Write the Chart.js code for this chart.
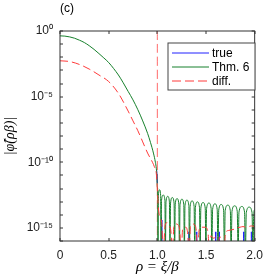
<!DOCTYPE html>
<html>
<head>
<meta charset="utf-8">
<script src="https://cdn.jsdelivr.net/npm/chart.js@4.4.1/dist/chart.umd.min.js"></script>
<style>
  html, body { margin: 0; padding: 0; background: #fff; }
  #wrap { width: 270px; height: 280px; }
</style>
</head>
<body>
<div id="wrap"><canvas id="chart" width="270" height="280"></canvas></div>
<script>
// rho values and log10 |phi|
const thmRho = [0, 0.05, 0.1, 0.15, 0.2, 0.25, 0.3, 0.35, 0.4, 0.45, 0.5, 0.55, 0.6, 0.65, 0.7,
    0.75, 0.8, 0.85, 0.9, 0.93, 0.96, 0.98, 0.99, 0.995, 1.0, 1.003];
const thmLog = [-0.37, -0.39, -0.45, -0.55, -0.70, -0.88, -1.12, -1.40, -1.72, -2.05, -2.40, -2.85, -3.35, -3.95, -4.60,
    -5.25, -6.00, -6.85, -7.80, -8.50, -9.30, -10.0, -10.5, -11.0, -11.9, -12.0];

// Thm. 6 beyond rho = 1 (arches between zeros)
const thmTailRho = [1.007, 1.011, 1.023, 1.034, 1.038, 1.043, 1.061, 1.078, 1.083, 1.089, 1.107, 1.124,
    1.13, 1.136, 1.154, 1.172, 1.178, 1.184, 1.203, 1.221, 1.227, 1.233, 1.253, 1.272,
    1.278, 1.284, 1.304, 1.324, 1.33, 1.337, 1.357, 1.378, 1.384, 1.391, 1.412, 1.433,
    1.44, 1.447, 1.47, 1.492, 1.499, 1.506, 1.53, 1.553, 1.56, 1.568, 1.592, 1.615,
    1.623, 1.631, 1.656, 1.681, 1.689, 1.697, 1.724, 1.75, 1.758, 1.767, 1.794, 1.821,
    1.83, 1.839, 1.868, 1.896, 1.905, 1.914, 1.944, 1.973, 1.982, 1.991, 2.0];
const thmTailLog = [-17, -12.52, -12.1, -12.52, -17, -12.92, -12.5, -12.92, -17, -13.02, -12.6, -13.02,
    -17, -13.11, -12.69, -13.11, -17, -13.19, -12.77, -13.19, -17, -13.24, -12.82, -13.24,
    -17, -13.31, -12.89, -13.31, -17, -13.37, -12.95, -13.37, -17, -13.44, -13.02, -13.44,
    -17, -13.49, -13.07, -13.49, -17, -13.53, -13.11, -13.53, -17, -13.59, -13.17, -13.59,
    -17, -13.64, -13.22, -13.64, -17, -13.69, -13.27, -13.69, -17, -13.74, -13.32, -13.74,
    -17, -13.79, -13.37, -13.79, -17, -13.84, -13.42, -13.84, -17, -13.9, -13.6];

// "true" lies under Thm. 6; only the parts where it shows are kept
const trueRho = [0.993, 0.997, 1.0, 1.001, 1.043, 1.046, 1.049, 1.05, 1.323, 1.326, 1.329, 1.33,
    1.401, 1.404, 1.407, 1.408, 1.597, 1.6, 1.603, 1.604, 1.633, 1.636, 1.639, 1.64,
    1.885, 1.888, 1.891, 1.892, 1.965, 1.968, 1.971];
const trueLog = [-10.6, -11.1, -11.6, null, -14.2, -17, -14.4, null, -15.3, -17, -15.3, null,
    -15.3, -17, -15.3, null, -15.3, -17, -15.3, null, -15.3, -17, -15.3, null,
    -15.3, -17, -15.3, null, -15.3, -17, -15.3];

const diffRho = [0, 0.1, 0.2, 0.3, 0.4, 0.5, 0.6, 0.7, 0.75, 0.8, 0.85, 0.9, 0.95, 0.97, 0.99, 1.0,
    1.01, 1.02, 1.03, 1.045, 1.06, 1.08, 1.10, 1.12, 1.14, 1.155, 1.17, 1.19, 1.21, 1.23,
    1.245, 1.26, 1.29, 1.31, 1.325, 1.34, 1.36, 1.38, 1.40, 1.415, 1.43, 1.46, 1.49, 1.52,
    1.535, 1.55, 1.58, 1.60, 1.62, 1.64, 1.66, 1.685, 1.70, 1.73, 1.76, 1.79, 1.82, 1.85,
    1.88, 1.91, 1.94, 1.97, 2.0];
const diffLog = [-2.27, -2.33, -2.55, -2.9, -3.35, -3.85, -4.75, -6.1, -6.85, -7.6, -8.45, -9.3, -10.0, -10.35, -10.9, -12.0,
    -13.4, -14.0, -14.3, -14.6, -17, -14.8, -14.6, -14.8, -15.3, -17, -14.9, -14.7, -14.75, -15.2,
    -17, -15.1, -14.95, -15.3, -17, -14.9, -14.7, -14.75, -15.2, -17, -15.1, -14.95, -14.95, -15.3,
    -17, -15.6, -15.8, -15.7, -17, -15.7, -15.8, -17, -15.4, -15.2, -15.15, -15.1, -15.0, -14.95,
    -14.9, -14.95, -14.9, -14.85, -14.9];

const boundaryRho = 1;
const xTicks = [0, 0.5, 1, 1.5, 2];
const yTickExp = [0, -1, -2, -3, -4, -5, -6, -7, -8, -9, -10, -11, -12, -13, -14, -15, -16];
const yLabelExp = [0, -5, -10, -15];
const seriesNames = ['true', 'Thm. 6', 'diff.'];
const panelTitle = '(c)';

const toPoints = (rho, lg) => rho.map((r, i) => ({ x: r, y: lg[i] === null ? null : Math.pow(10, lg[i]) }));
const sup = { '0': '\u2070', '1': '\u00b9', '5': '\u2075', '-': '\u207b' };

const colors = { true: '#2020ff', thm: '#17802c', diff: '#ff3a3a', boundary: '#ff6a6a' };

// frame, inward ticks, panel title and legend box
const framePlugin = {
    id: 'frame',
    afterDraw(chart) {
        const { ctx, chartArea: a } = chart;
        const x = chart.scales.x, y = chart.scales.y;
        ctx.save();
        ctx.strokeStyle = '#333';
        ctx.lineWidth = 1;
        ctx.strokeRect(a.left, a.top, a.right - a.left, a.bottom - a.top);
        ctx.beginPath();
        xTicks.forEach(v => {
            const px = Math.round(x.getPixelForValue(v));
            ctx.moveTo(px, a.bottom); ctx.lineTo(px, a.bottom - 3);
            ctx.moveTo(px, a.top); ctx.lineTo(px, a.top + 3);
        });
        yTickExp.forEach(e => {
            const py = Math.round(y.getPixelForValue(Math.pow(10, e)));
            ctx.moveTo(a.left, py); ctx.lineTo(a.left + 3, py);
            ctx.moveTo(a.right, py); ctx.lineTo(a.right - 3, py);
        });
        ctx.stroke();

        ctx.fillStyle = '#000';
        ctx.font = '12px "Liberation Sans", Arial, sans-serif';
        ctx.textBaseline = 'alphabetic';
        ctx.fillText(panelTitle, a.left, 12);

        // legend
        const bx = 168, by = 43, bw = 87, bh = 47;
        ctx.fillStyle = '#fff';
        ctx.fillRect(bx, by, bw, bh);
        ctx.strokeStyle = '#444';
        ctx.strokeRect(bx, by, bw, bh);
        const styles = [
            { c: colors.true, dash: [] },
            { c: colors.thm, dash: [] },
            { c: colors.diff, dash: [9, 4] }
        ];
        ctx.font = '12px "Liberation Sans", Arial, sans-serif';
        ctx.textBaseline = 'middle';
        seriesNames.forEach((name, i) => {
            const ly = by + 10 + i * 14;
            ctx.beginPath();
            ctx.setLineDash(styles[i].dash);
            ctx.strokeStyle = styles[i].c;
            ctx.moveTo(bx + 4, ly); ctx.lineTo(bx + 41, ly);
            ctx.stroke();
            ctx.setLineDash([]);
            ctx.fillStyle = '#000';
            ctx.fillText(name, bx + 44, ly + 1);
        });
        ctx.restore();
    }
};

const ctx = document.getElementById('chart').getContext('2d');
new Chart(ctx, {
    type: 'line',
    data: {
        datasets: [
            {
                label: seriesNames[2],
                data: toPoints(diffRho, diffLog),
                borderColor: colors.diff,
                borderDash: [8, 4],
                borderWidth: 1,
                order: 0
            },
            {
                label: seriesNames[1],
                data: toPoints(thmRho.concat(thmTailRho), thmLog.concat(thmTailLog)),
                borderColor: colors.thm,
                borderWidth: 1,
                order: 1
            },
            {
                label: seriesNames[0],
                data: toPoints(trueRho, trueLog),
                borderColor: colors.true,
                borderWidth: 1,
                spanGaps: false,
                order: 2
            },
            {
                label: 'boundary',
                data: [{ x: boundaryRho, y: Math.pow(10, yTickExp[0]) }, { x: boundaryRho, y: Math.pow(10, yTickExp[yTickExp.length - 1]) }],
                borderColor: colors.boundary,
                borderDash: [9, 4],
                borderWidth: 1,
                order: 3
            }
        ]
    },
    options: {
        responsive: false,
        animation: false,
        devicePixelRatio: 1,
        elements: {
            point: { radius: 0 },
            line: { cubicInterpolationMode: 'monotone', fill: false }
        },
        layout: { padding: { top: 31, right: 4, left: 0, bottom: 0 } },
        plugins: {
            legend: { display: false },
            tooltip: { enabled: false }
        },
        scales: {
            x: {
                type: 'linear',
                min: 0,
                max: 2,
                afterBuildTicks: s => { s.ticks = xTicks.map(v => ({ value: v })); },
                afterFit: s => { s.height = 39; },
                grid: { display: false, drawTicks: false },
                border: { display: false },
                ticks: {
                    autoSkip: false,
                    maxRotation: 0,
                    padding: 7,
                    color: '#222',
                    font: { family: '"Liberation Sans", Arial, sans-serif', size: 12 }
                },
                title: {
                    display: true,
                    text: '\u03c1 = \u03be/\u03b2',
                    color: '#000',
                    padding: { top: 0, bottom: 4 },
                    font: { family: '"Liberation Serif", "DejaVu Serif", serif', size: 15, style: 'italic' }
                }
            },
            y: {
                type: 'logarithmic',
                min: Math.pow(10, yTickExp[yTickExp.length - 1]),
                max: Math.pow(10, yTickExp[0]),
                afterBuildTicks: s => { s.ticks = yTickExp.map(e => ({ value: Math.pow(10, e) })); },
                afterFit: s => { s.width = 60; },
                grid: { display: false, drawTicks: false },
                border: { display: false },
                ticks: {
                    autoSkip: false,
                    padding: 7,
                    color: '#222',
                    font: { family: '"Liberation Sans", Arial, sans-serif', size: 12 },
                    callback: v => {
                        const e = Math.round(Math.log10(v));
                        if (!yLabelExp.includes(e)) return '';
                        return '10' + String(e).split('').map(ch => sup[ch]).join('');
                    }
                },
                title: {
                    display: true,
                    text: '|\u03c6\u0302(\u03c1\u03b2)|',
                    color: '#000',
                    padding: { top: 2, bottom: 0 },
                    font: { family: '"Liberation Serif", "DejaVu Serif", serif', size: 14, style: 'italic' }
                }
            }
        }
    },
    plugins: [framePlugin]
});
</script>
</body>
</html>
